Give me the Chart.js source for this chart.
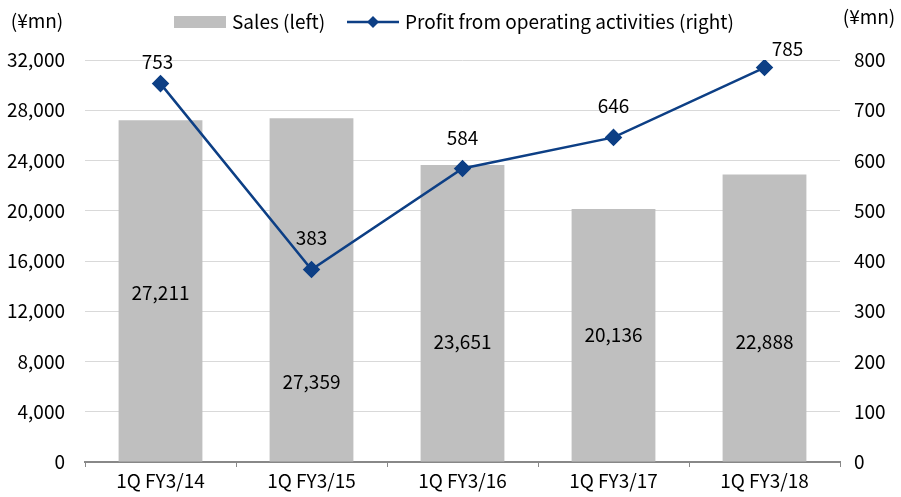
<!DOCTYPE html>
<html>
<head>
<meta charset="utf-8">
<script src="https://cdn.jsdelivr.net/npm/chart.js@4"></script>
<style>
  html, body { margin: 0; padding: 0; background: #fff; }
  #wrap { width: 901px; height: 497px; position: relative; }
</style>
</head>
<body>
<div id="wrap"><canvas id="chart"></canvas></div>
<script>
// Datos del gráfico
const categories = ['1Q FY3/14', '1Q FY3/15', '1Q FY3/16', '1Q FY3/17', '1Q FY3/18'];
const sales = [27211, 27359, 23651, 20136, 22888];
const profit = [753, 383, 584, 646, 785];
// Altura (en unidades del eje izquierdo) donde va la etiqueta de cada barra
const salesLabelAt = [13500, 6400, 9550, 10100, 9550];
// Desplazamiento (px) de las etiquetas de la línea respecto al punto
const profitLabelDx = [-3, 0, 0, 0, 23];
const profitLabelDy = [-22, -32, -31, -32, -19];

const FONT = '"Noto Sans CJK JP", "Noto Sans", sans-serif';
const FSIZE = 19;
const BAR_COLOR = '#bfbfbf';
const LINE_COLOR = '#0d3f85';

const fmt = v => v.toLocaleString('en-US');

// Etiquetas, unidades y leyenda
const labelsPlugin = {
  id: 'labels',
  afterDatasetsDraw(chart) {
    const ctx = chart.ctx;
    const yL = chart.scales.y;
    ctx.save();
    ctx.font = FSIZE + 'px ' + FONT;
    ctx.fillStyle = '#000';
    ctx.textAlign = 'center';
    ctx.textBaseline = 'middle';

    chart.getDatasetMeta(1).data.forEach((bar, i) => {
      ctx.fillText(fmt(sales[i]), bar.x, yL.getPixelForValue(salesLabelAt[i]));
    });
    chart.getDatasetMeta(0).data.forEach((pt, i) => {
      ctx.fillText(fmt(profit[i]), pt.x + profitLabelDx[i], pt.y + profitLabelDy[i]);
    });

    // Unidades
    ctx.fillText('(¥mn)', 37, 21);
    ctx.fillText('(¥mn)', 869, 17);

    // Leyenda
    ctx.fillStyle = BAR_COLOR;
    ctx.fillRect(174, 16, 52, 12);
    ctx.fillStyle = '#000';
    ctx.textAlign = 'left';
    ctx.fillText('Sales (left)', 232, 22);

    ctx.strokeStyle = LINE_COLOR;
    ctx.lineWidth = 2.5;
    ctx.beginPath();
    ctx.moveTo(347, 22);
    ctx.lineTo(399, 22);
    ctx.stroke();
    ctx.fillStyle = LINE_COLOR;
    ctx.beginPath();
    ctx.moveTo(373, 16);
    ctx.lineTo(379, 22);
    ctx.lineTo(373, 28);
    ctx.lineTo(367, 22);
    ctx.closePath();
    ctx.fill();
    ctx.fillStyle = '#000';
    ctx.fillText('Profit from operating activities (right)', 405, 22);
    ctx.restore();
  }
};

new Chart(document.getElementById('chart'), {
  type: 'bar',
  data: {
    labels: categories,
    datasets: [
      {
        type: 'line',
        label: 'Profit from operating activities (right)',
        data: profit,
        yAxisID: 'y1',
        borderColor: LINE_COLOR,
        backgroundColor: LINE_COLOR,
        borderWidth: 2.5,
        pointStyle: 'rectRot',
        pointRadius: 7,
        pointHoverRadius: 7,
        tension: 0,
        order: 0
      },
      {
        type: 'bar',
        label: 'Sales (left)',
        data: sales,
        yAxisID: 'y',
        backgroundColor: BAR_COLOR,
        categoryPercentage: 1,
        barPercentage: 0.555,
        order: 1
      }
    ]
  },
  options: {
    responsive: true,
    maintainAspectRatio: false,
    animation: false,
    layout: { padding: { top: 60, left: 0, right: 0, bottom: 0 } },
    plugins: {
      legend: { display: false },
      tooltip: { enabled: false }
    },
    scales: {
      x: {
        grid: {
          offset: true,
          drawOnChartArea: false,
          drawTicks: true,
          tickLength: 5,
          color: '#888'
        },
        border: { color: '#888', width: 2 },
        ticks: { color: '#000', font: { family: FONT, size: FSIZE }, padding: 2 },
        afterFit: s => { s.height = 35; }
      },
      y: {
        position: 'left',
        min: 0,
        max: 32000,
        ticks: {
          stepSize: 4000,
          color: '#000',
          font: { family: FONT, size: FSIZE },
          padding: 20,
          callback: v => fmt(v)
        },
        grid: { color: ctx => ctx.tick.value === 0 ? 'rgba(0,0,0,0)' : '#d9d9d9', drawTicks: false },
        border: { display: false },
        afterFit: s => { s.width = 85; }
      },
      y1: {
        position: 'right',
        min: 0,
        max: 800,
        ticks: {
          stepSize: 100,
          color: '#000',
          font: { family: FONT, size: FSIZE },
          padding: 14
        },
        grid: { drawOnChartArea: false, drawTicks: false },
        border: { display: false },
        afterFit: s => { s.width = 61; }
      }
    }
  },
  plugins: [labelsPlugin]
});
</script>
</body>
</html>
